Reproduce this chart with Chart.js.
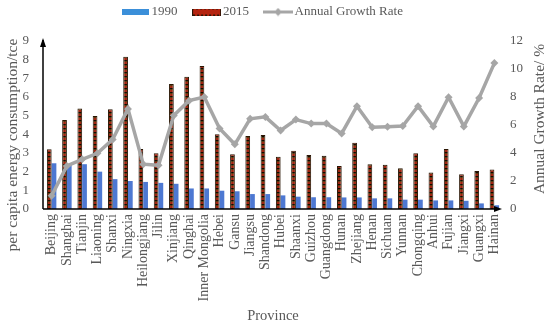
<!DOCTYPE html>
<html>
<head>
<meta charset="utf-8">
<script src="https://cdn.jsdelivr.net/npm/chart.js@4/dist/chart.umd.min.js"></script>
<style>
  html, body { margin: 0; padding: 0; background: #ffffff; }
  #wrap { width: 550px; height: 325px; position: relative; }
</style>
</head>
<body>
<div id="wrap"><canvas id="c" width="550" height="325"></canvas></div>
<script>
const provinces = ["Beijing","Shanghai","Tianjin","Liaoning","Shanxi","Ningxia","Heilongjiang","Jilin","Xinjiang","Qinghai","Inner Mongolia","Hebei","Gansu","Jiangsu","Shandong","Hubei","Shaanxi","Guizhou","Guangdong","Hunan","Zhejiang","Henan","Sichuan","Yunnan","Chongqing","Anhui","Fujian","Jiangxi","Guangxi","Hainan"];
const values1990 = [2.45,2.4,2.4,2.0,1.6,1.5,1.45,1.4,1.35,1.1,1.1,0.98,0.95,0.8,0.8,0.73,0.66,0.63,0.63,0.62,0.62,0.57,0.57,0.5,0.5,0.46,0.46,0.44,0.3,0.2];
const values2015 = [3.2,4.77,5.39,4.98,5.34,8.16,3.21,2.98,6.7,7.09,7.66,4.0,2.93,3.91,3.96,2.8,3.12,2.89,2.85,2.3,3.55,2.4,2.37,2.18,2.98,1.95,3.21,1.86,2.04,2.12];
const growthRate = [0.95,3.08,3.55,3.98,4.97,7.15,3.2,3.12,6.68,7.74,8.0,5.75,4.62,6.44,6.58,5.61,6.39,6.1,6.1,5.4,7.34,5.84,5.88,5.92,7.34,5.9,7.98,5.9,7.93,10.42];
const leftTicks = [0,1,2,3,4,5,6,7,8,9];
const rightTicks = [0,2,4,6,8,10,12];
const seriesNames = ["1990","2015","Annual Growth Rate"];
const xTitle = "Province";
const yTitle = "per capita energy consumption/tce";
const y1Title = "Annual Growth Rate/ %";

const FONT = '"Liberation Serif", "Times New Roman", serif';
const GRAY = '#595959';
Chart.defaults.font.family = FONT;
Chart.defaults.color = GRAY;

const BLUE = '#3b8fd9';
const BARBLUE = '#4d78d2';
const LINEGRAY = '#a6a6a6';

function makePattern() {
  const c = document.createElement('canvas');
  c.width = 4; c.height = 4;
  const g = c.getContext('2d');
  g.fillStyle = '#a02410'; g.fillRect(0,0,4,4);
  g.fillStyle = '#140800'; g.fillRect(0,0,4,1);
  g.fillStyle = '#5c3a0c'; g.fillRect(0,1,4,1);
  return g.createPattern(c, 'repeat');
}
const pattern2015 = makePattern();

function legendImg(kind) {
  const c = document.createElement('canvas');
  const g = c.getContext('2d');
  if (kind === 0) {
    c.width = 27; c.height = 6;
    g.fillStyle = BLUE; g.fillRect(0,0,27,6);
  } else if (kind === 1) {
    c.width = 29; c.height = 7;
    g.fillStyle = '#b52410'; g.fillRect(0,0,29,7);
    g.fillStyle = '#2a1505';
    for (let x = 0; x < 29; x += 4) { g.fillRect(x,0,2,1); g.fillRect(x+1,6,2,1); }
    g.fillRect(0,0,1,7); g.fillRect(28,0,1,7);
  } else {
    c.width = 30; c.height = 9;
    g.strokeStyle = LINEGRAY; g.lineWidth = 3;
    g.beginPath(); g.moveTo(0,4.5); g.lineTo(30,4.5); g.stroke();
    g.fillStyle = LINEGRAY;
    g.beginPath(); g.moveTo(15,0.5); g.lineTo(19,4.5); g.lineTo(15,8.5); g.lineTo(11,4.5); g.closePath(); g.fill();
  }
  return c;
}
const legendImgs = [legendImg(0), legendImg(1), legendImg(2)];

const decoPlugin = {
  id: 'deco',
  afterInit(chart) {
    const lg = chart.legend;
    if (lg) {
      const orig = lg.fit.bind(lg);
      lg.fit = function() { orig(); this.height = 41; };
    }
  },
  afterLayout(chart) {
    const lg = chart.legend;
    if (lg) {
      lg.left -= 11; lg.right -= 11;
      lg.top -= 13.5; lg.bottom -= 13.5;
    }
  },
  afterDraw(chart) {
    const ctx = chart.ctx;
    const a = chart.chartArea;
    ctx.save();
    ctx.strokeStyle = '#000'; ctx.fillStyle = '#000'; ctx.lineWidth = 1.5;
    const ax = a.left - 1;
    ctx.beginPath(); ctx.moveTo(ax, a.bottom); ctx.lineTo(ax, a.top - 1); ctx.stroke();
    ctx.beginPath(); ctx.moveTo(ax, a.top - 3); ctx.lineTo(ax - 3, a.top + 6); ctx.lineTo(ax + 3, a.top + 6); ctx.closePath(); ctx.fill();
    ctx.beginPath(); ctx.moveTo(ax, a.bottom); ctx.lineTo(a.right - 6, a.bottom); ctx.stroke();
    ctx.beginPath(); ctx.moveTo(a.right, a.bottom); ctx.lineTo(a.right - 8, a.bottom - 3); ctx.lineTo(a.right - 8, a.bottom + 3); ctx.closePath(); ctx.fill();
    ctx.fillStyle = GRAY;
    ctx.font = '15.5px ' + FONT;
    ctx.textAlign = 'center'; ctx.textBaseline = 'middle';
    ctx.save(); ctx.translate(13, 145); ctx.rotate(-Math.PI/2); ctx.fillText(yTitle, 0, 0); ctx.restore();
    ctx.save(); ctx.translate(540, 119); ctx.rotate(-Math.PI/2); ctx.fillText(y1Title, 0, 0); ctx.restore();
    ctx.restore();
  }
};

new Chart(document.getElementById('c'), {
  data: {
    labels: provinces,
    datasets: [
      { type: 'bar', label: seriesNames[0], data: values1990, backgroundColor: BARBLUE, yAxisID: 'y', order: 2,
        categoryPercentage: 0.62, barPercentage: 1.0 },
      { type: 'bar', label: seriesNames[1], data: values2015, backgroundColor: pattern2015, yAxisID: 'y', order: 1,
        borderColor: '#2a1604', borderWidth: {left: 1, right: 1, top: 1, bottom: 0},
        categoryPercentage: 0.62, barPercentage: 1.0 },
      { type: 'line', label: seriesNames[2], data: growthRate, yAxisID: 'y1', order: 0,
        borderColor: LINEGRAY, backgroundColor: LINEGRAY, borderWidth: 3.5, tension: 0,
        pointStyle: 'rectRot', pointRadius: 4, pointBackgroundColor: LINEGRAY, pointBorderColor: LINEGRAY, pointBorderWidth: 0 }
    ]
  },
  options: {
    responsive: false,
    animation: false,
    devicePixelRatio: 1,
    layout: { padding: 0 },
    plugins: {
      tooltip: { enabled: false },
      legend: {
        position: 'top',
        labels: {
          usePointStyle: true,
          pointStyleWidth: 20,
          boxHeight: 6,
          padding: 19,
          color: GRAY,
          font: { size: 13, family: FONT },
          sort: (a, b) => a.datasetIndex - b.datasetIndex,
          generateLabels(chart) {
            const items = Chart.defaults.plugins.legend.labels.generateLabels(chart);
            items.forEach(it => { it.pointStyle = legendImgs[it.datasetIndex]; it.lineWidth = 0; });
            return items;
          }
        }
      }
    },
    scales: {
      x: {
        grid: { display: false, drawTicks: false },
        border: { display: false },
        ticks: { autoSkip: false, minRotation: 90, maxRotation: 90, padding: 5, color: GRAY, font: { size: 14, family: FONT } },
        title: { display: true, text: xTitle, color: GRAY, font: { size: 14.5, family: FONT }, padding: { top: 0, bottom: 0 } },
        afterFit(s) { s.height = 116; }
      },
      y: {
        position: 'left', min: 0, max: 9,
        afterBuildTicks(s) { s.ticks = leftTicks.map(v => ({ value: v })); },
        grid: { display: false, drawTicks: false },
        border: { display: false },
        ticks: { padding: 15, color: GRAY, font: { size: 13, family: FONT } },
        afterFit(s) { s.width = 44; }
      },
      y1: {
        position: 'right', min: 0, max: 12,
        afterBuildTicks(s) { s.ticks = rightTicks.map(v => ({ value: v })); },
        grid: { display: false, drawTicks: false },
        border: { display: false },
        ticks: { padding: 8, color: GRAY, font: { size: 13, family: FONT } },
        afterFit(s) { s.width = 48; }
      }
    }
  },
  plugins: [decoPlugin]
});
</script>
</body>
</html>
